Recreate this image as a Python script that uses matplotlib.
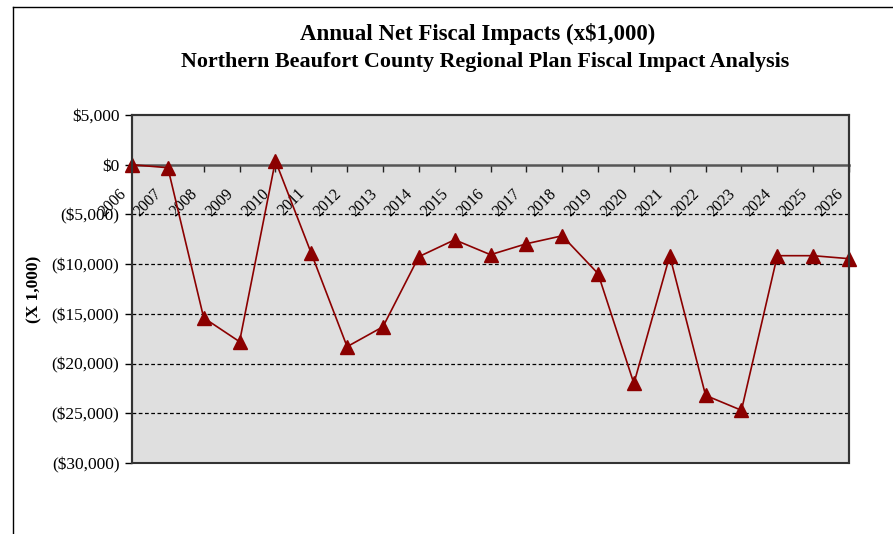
import matplotlib.pyplot as plt
from matplotlib.patches import Rectangle
from matplotlib.lines import Line2D

plt.rcParams['font.family'] = ['Liberation Serif', 'DejaVu Serif']

# Valores (x $1,000)
years = [str(y) for y in range(2006, 2027)]
impacts = [0, -300, -15400, -17800, 400, -8900, -18300, -16300, -9250, -7550,
           -9050, -7950, -7150, -10950, -22000, -9150, -23200, -24700, -9150,
           -9150, -9450]
y_ticks = [5000, 0, -5000, -10000, -15000, -20000, -25000, -30000]
y_labels = ['$5,000', '$0', '($5,000)', '($10,000)', '($15,000)',
            '($20,000)', '($25,000)', '($30,000)']

fig = plt.figure(figsize=(8.93, 5.34), dpi=100)
ax = fig.add_axes([132 / 893, 1 - 463 / 534, 717 / 893, 348 / 534])
ax.set_facecolor('#dfdfdf')

x = list(range(len(years)))
ax.plot(x, impacts, color='#8b0000', lw=1.2, marker='^', markersize=10,
        markerfacecolor='#8b0000', markeredgecolor='#8b0000', zorder=5,
        clip_on=False)

ax.set_xlim(0, len(years) - 1)
ax.set_ylim(-30000, 5000)
ax.set_yticks(y_ticks)
ax.set_yticklabels(y_labels, fontsize=12.5)
ax.set_xticks(x)
ax.tick_params(axis='x', direction='out', length=5, width=1, colors='#222',
               labelbottom=False)
ax.tick_params(axis='y', direction='out', length=5, width=1, pad=4)

# lineas de cuadricula discontinuas (menos la del cero)
for v in y_ticks[2:-1]:
    ax.axhline(v, color='black', lw=0.9, ls=(0, (3, 2)), zorder=1)

ax.spines['bottom'].set_position(('data', 0))
ax.spines['bottom'].set_color('#555')
ax.spines['bottom'].set_linewidth(1.8)
for s in ['left', 'right', 'top']:
    ax.spines[s].set_color('#333')
    ax.spines[s].set_linewidth(1.5)
ax.add_patch(Rectangle((0, 0), 1, 1, transform=ax.transAxes, fill=False,
                       lw=1.5, ec='#333', clip_on=False, zorder=6))

# etiquetas de los años, giradas y dentro del area
for i, yr in enumerate(years):
    ax.annotate(yr, xy=(i, 0), xytext=(-14, -21), textcoords='offset pixels',
                rotation=45, ha='right', va='top', rotation_mode='anchor',
                fontsize=11.5, zorder=4)

ax.set_ylabel('(X 1,000)', fontsize=12.5, fontweight='bold', labelpad=7)

fig.text(478 / 893, 1 - 40 / 534, 'Annual Net Fiscal Impacts (x$1,000)',
         ha='center', va='baseline', fontsize=16.5, fontweight='bold')
fig.text(485 / 893, 1 - 67 / 534,
         'Northern Beaufort County Regional Plan Fiscal Impact Analysis',
         ha='center', va='baseline', fontsize=15.8, fontweight='bold')

# borde del area del grafico
fig.add_artist(Line2D([13 / 893, 1], [1 - 7 / 534, 1 - 7 / 534],
                      transform=fig.transFigure, color='black', lw=1))
fig.add_artist(Line2D([13 / 893, 13 / 893], [0, 1 - 7 / 534],
                      transform=fig.transFigure, color='black', lw=1))

fig.savefig('out.png', dpi=100)
